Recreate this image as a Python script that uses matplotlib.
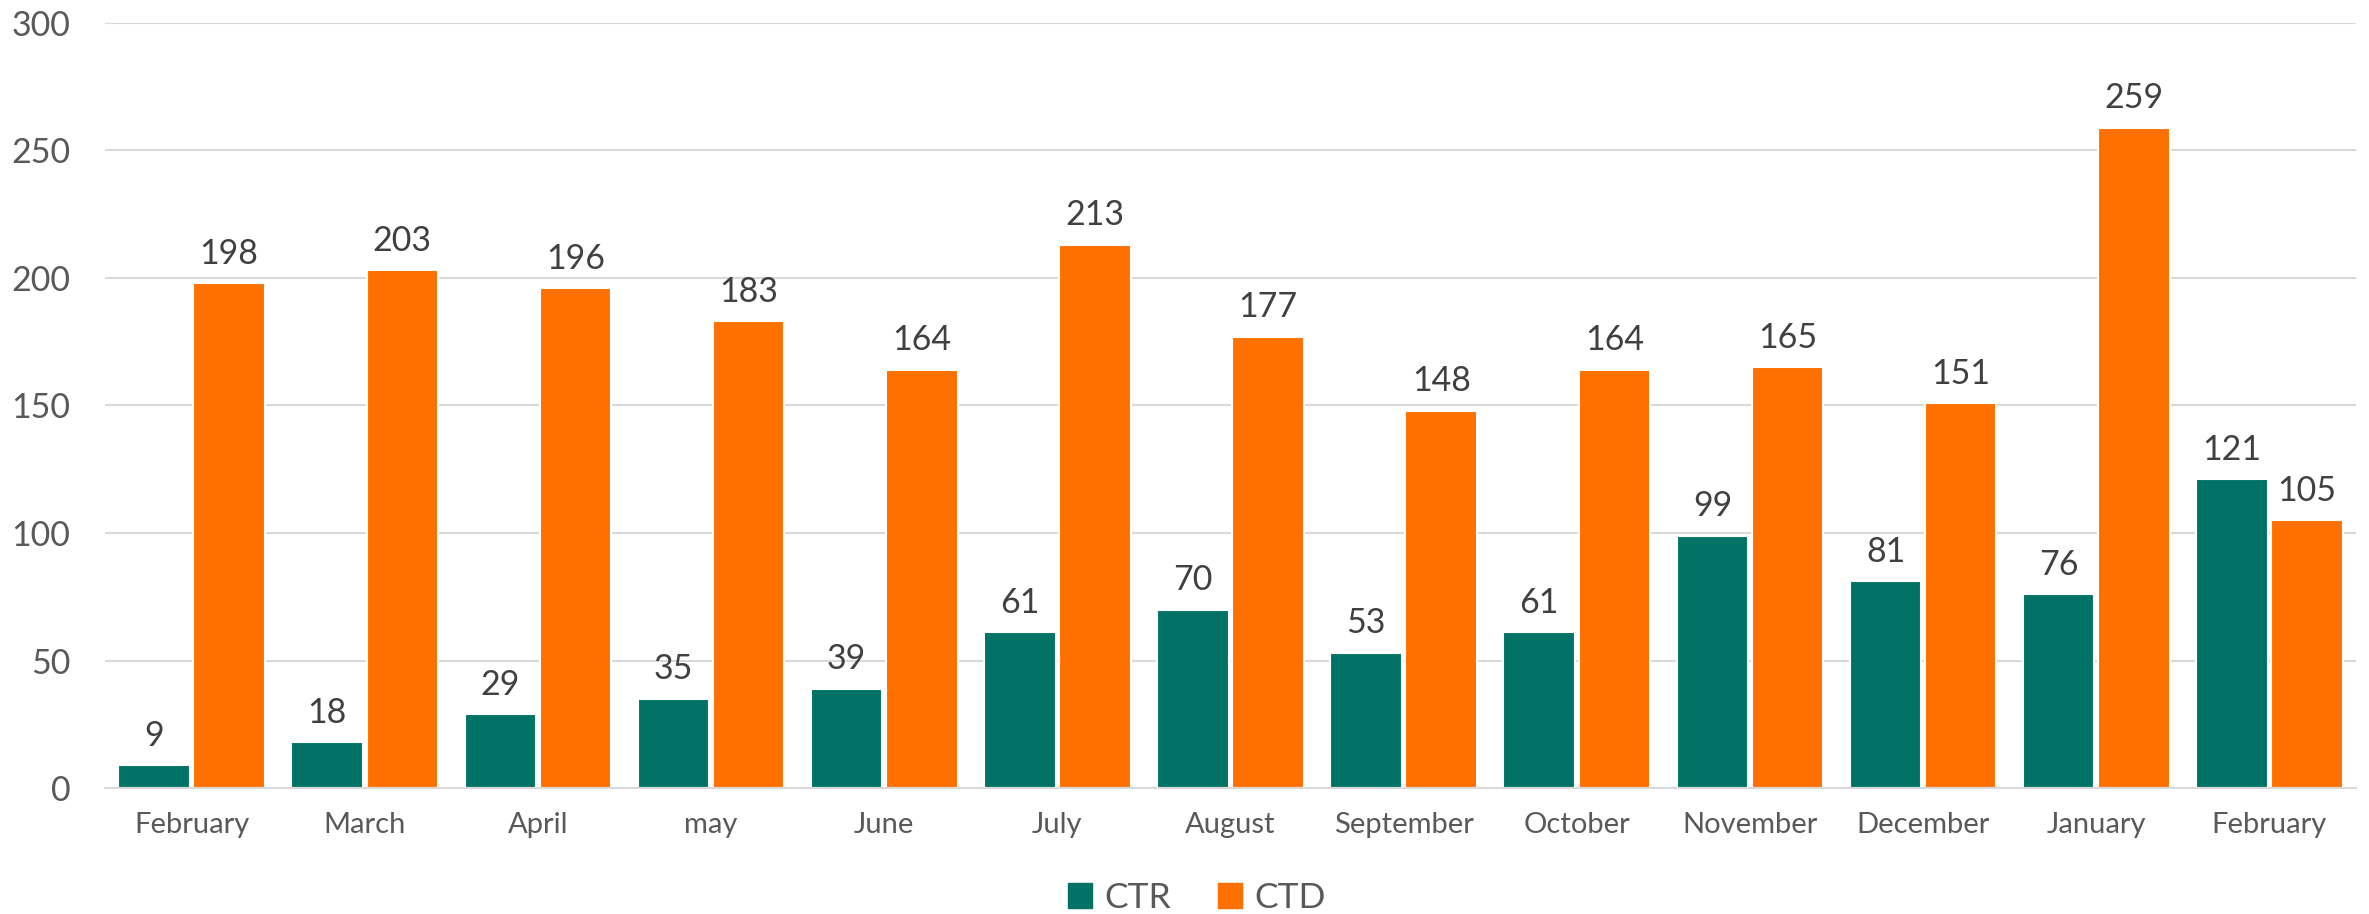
import matplotlib
matplotlib.use("Agg")
import matplotlib.pyplot as plt
import numpy as np
from matplotlib.patches import Patch

months = ["February", "March", "April", "may", "June", "July", "August",
          "September", "October", "November", "December", "January", "February"]
ctr = [9, 18, 29, 35, 39, 61, 70, 53, 61, 99, 81, 76, 121]
ctd = [198, 203, 196, 183, 164, 213, 177, 148, 164, 165, 151, 259, 105]
yticks = [0, 50, 100, 150, 200, 250, 300]

teal = "#007366"
orange = "#FF7000"
tick_color = "#595959"
label_color = "#404040"
grid_color = "#D9D9D9"

plt.rcParams['font.family'] = ['Lato', 'DejaVu Sans']

W, H = 2369, 914
fig = plt.figure(figsize=(W / 100, H / 100), dpi=100)
left, right = 105, 2356
top, bottom = 23, 788
ax = fig.add_axes([left / W, 1 - bottom / H, (right - left) / W, (bottom - top) / H])

x = np.arange(len(months))
off = 0.217
bw = 0.413
b1 = ax.bar(x - off, ctr, width=bw, color=teal, edgecolor="white", linewidth=1.5, zorder=3)
b2 = ax.bar(x + off, ctd, width=bw, color=orange, edgecolor="white", linewidth=1.5, zorder=3)

for bars, vals in ((b1, ctr), (b2, ctd)):
    for rect, v in zip(bars, vals):
        ax.annotate(str(v), (rect.get_x() + rect.get_width() / 2, v),
                    xytext=(0, 14), textcoords="offset points",
                    ha="center", va="baseline", fontsize=24.5, color=label_color)

ax.set_xlim(-0.5, len(months) - 0.5)
ax.set_ylim(0, 300)
ax.set_yticks(yticks)
ax.set_yticklabels([str(t) for t in yticks])
ax.set_xticks(x)
ax.set_xticklabels(months)
ax.tick_params(axis="y", length=0, pad=25, labelsize=24.5, labelcolor=tick_color)
ax.tick_params(axis="x", length=0, pad=17, labelsize=21, labelcolor=tick_color)
ax.grid(axis="y", color=grid_color, linewidth=1.5, zorder=0)
for s in ["top", "right", "left"]:
    ax.spines[s].set_visible(False)
ax.spines["bottom"].set_color(grid_color)
ax.spines["bottom"].set_linewidth(1.5)
ax.spines["bottom"].set_zorder(4)

handles = [Patch(color=teal, label="CTR"), Patch(color=orange, label="CTD")]
leg = fig.legend(handles=handles, loc="center", bbox_to_anchor=(1197 / W, 1 - 898 / H),
                 ncol=2, frameon=False, fontsize=25.5, handlelength=0.7, handleheight=0.7,
                 handletextpad=0.35, columnspacing=1.3, labelcolor=tick_color)

fig.savefig("out.png", dpi=100)
